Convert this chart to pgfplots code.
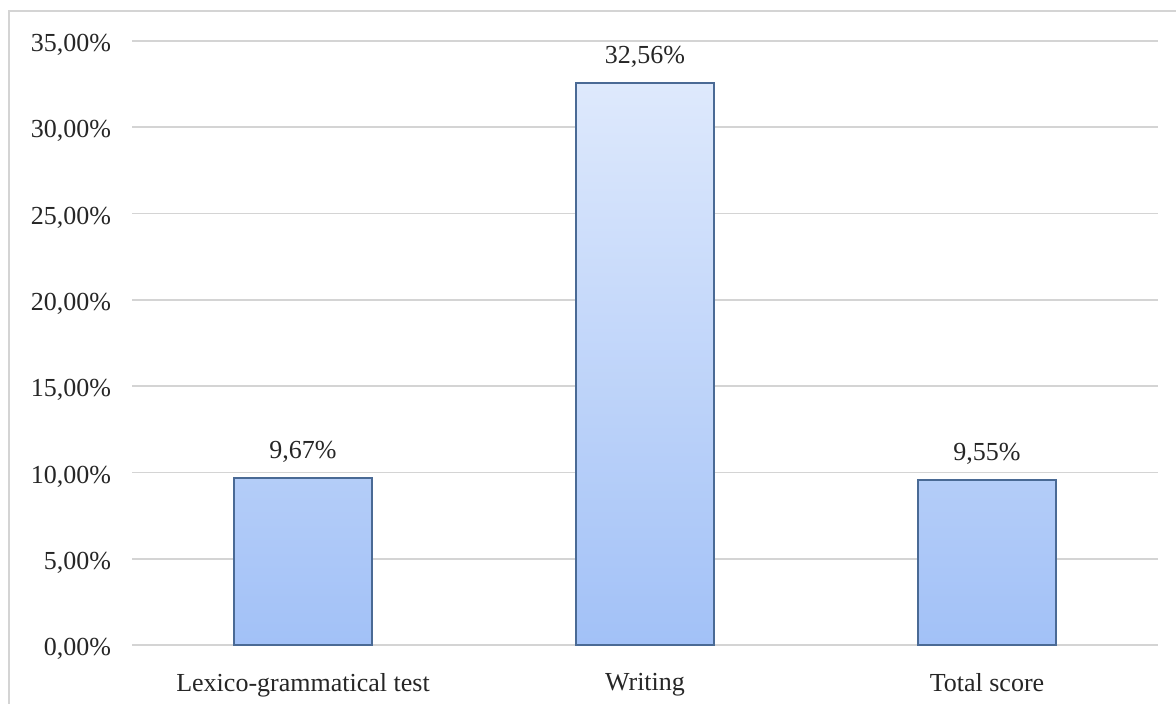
\documentclass[border=0pt]{standalone}
\usepackage{fontspec}
\setmainfont{Liberation Serif}
\usepackage{pgfplots}
\pgfplotsset{compat=1.18}
\definecolor{barTop}{HTML}{DEE9FC}
\definecolor{barBot}{HTML}{A2C1F7}
\definecolor{barEdge}{HTML}{4A6A95}
\definecolor{gridc}{HTML}{D4D4D4}
\begin{document}
\begin{tikzpicture}
\useasboundingbox (0pt,0pt) rectangle (588pt,352pt);
\draw[gridc, line width=0.8pt] (4.5pt,0pt) -- (4.5pt,346.5pt) -- (588pt,346.5pt);
\begin{axis}[
  at={(66pt,29.5pt)}, anchor=south west,
  scale only axis,
  width=513pt, height=302pt,
  xmin=-0.5, xmax=2.5,
  ymin=0, ymax=35,
  ytick={0,5,10,15,20,25,30,35},
  yticklabels={{0,00\%},{5,00\%},{10,00\%},{15,00\%},{20,00\%},{25,00\%},{30,00\%},{35,00\%}},
  xtick={0,1,2},
  xticklabels={Lexico-grammatical test,Writing,Total score},
  axis x line*=bottom,
  axis y line*=left,
  x axis line style={gridc, line width=0.8pt, -},
  y axis line style={draw=none},
  ymajorgrids,
  grid style={gridc, line width=0.8pt},
  major tick length=0pt,
  tick style={draw=none},
  ticklabel style={font=\fontsize{13}{15}\selectfont, text=black!85},
  yticklabel style={xshift=-7pt, yshift=-2pt},
  xticklabel style={yshift=-10.5pt},
  /pgf/number format/assume math mode=true,
  clip=false,
]
\addplot[ybar, bar width=69pt, draw=barEdge, line width=0.7pt,
  top color=barTop, bottom color=barBot,
  point meta=explicit symbolic,
  nodes near coords,
  every node near coord/.append style={font=\fontsize{13}{15}\selectfont, text=black!85, yshift=4pt},
] coordinates {
  (0,9.67) [9,67\%]
  (1,32.56) [32,56\%]
  (2,9.55) [9,55\%]
};
\end{axis}
\end{tikzpicture}
\end{document}
